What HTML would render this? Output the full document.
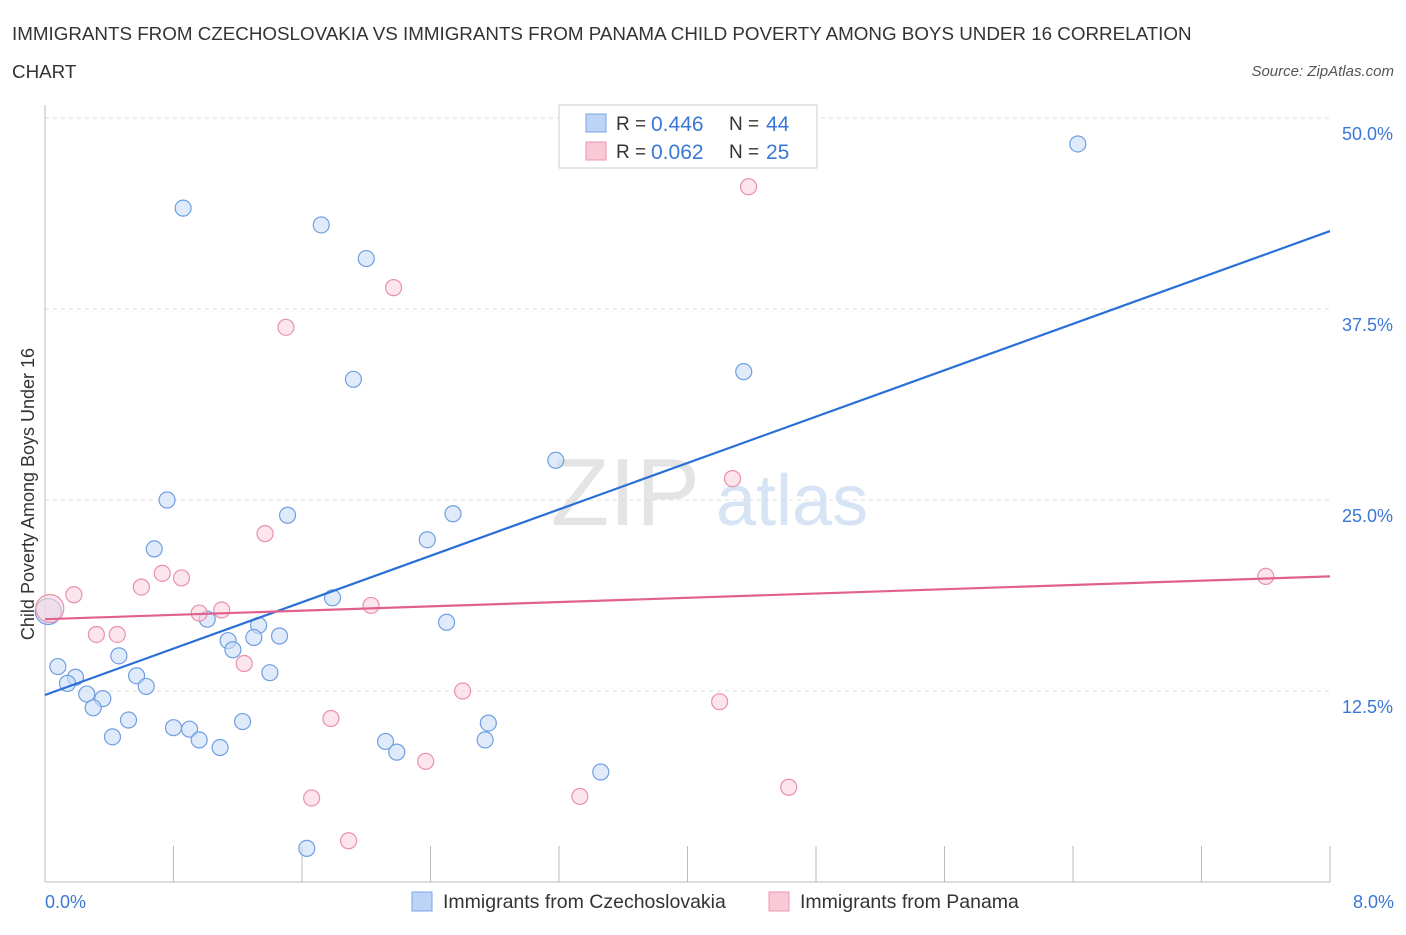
<!DOCTYPE html>
<html><head><meta charset="utf-8"><style>
body{margin:0;background:#fff;font-family:"Liberation Sans",sans-serif;}
svg text{font-family:"Liberation Sans",sans-serif;}
</style></head><body>
<svg id="c" width="1406" height="930" xmlns="http://www.w3.org/2000/svg">
<text x="12" y="40" font-size="18.8" fill="#333">IMMIGRANTS FROM CZECHOSLOVAKIA VS IMMIGRANTS FROM PANAMA CHILD POVERTY AMONG BOYS UNDER 16 CORRELATION</text>
<text x="12" y="78" font-size="18.8" fill="#333">CHART</text>
<text x="1394" y="76" font-size="15" fill="#555" font-style="italic" text-anchor="end">Source: ZipAtlas.com</text>
<text x="700" y="525" font-size="96" fill="#e4e4e4" text-anchor="end" font-family="Liberation Serif">ZIP</text>
<text x="716" y="525" font-size="72" fill="#d6e4f5">atlas</text>
<g id="grid"></g><g id="ticks"></g>
<text x="34" y="494" font-size="18" fill="#333" text-anchor="middle" transform="rotate(-90 34 494)">Child Poverty Among Boys Under 16</text>
<text x="45" y="908" font-size="18" fill="#3a78d8">0.0%</text>
<text x="1394" y="908" font-size="18" fill="#3a78d8" text-anchor="end">8.0%</text>
<g id="pts"></g><g id="lines"></g>
<g>
<rect x="559" y="105" width="258" height="63" fill="#fff" stroke="#ccc"/>
<rect x="586" y="114" width="20" height="18" fill="#bcd4f6" stroke="#7aa6e6"/>
<text x="616" y="130" font-size="19" fill="#333">R =</text>
<text x="651" y="131" font-size="21" fill="#3a78d8">0.446</text>
<text x="729" y="130" font-size="19" fill="#333">N =</text>
<text x="766" y="131" font-size="21" fill="#3a78d8">44</text>
<rect x="586" y="142" width="20" height="18" fill="#f9c9d7" stroke="#eb97b0"/>
<text x="616" y="158" font-size="19" fill="#333">R =</text>
<text x="651" y="159" font-size="21" fill="#3a78d8">0.062</text>
<text x="729" y="158" font-size="19" fill="#333">N =</text>
<text x="766" y="159" font-size="21" fill="#3a78d8">25</text>
</g>
<g>
<rect x="412" y="892" width="20" height="19" fill="#bcd4f6" stroke="#7aa6e6"/>
<text x="443" y="908" font-size="19.5" fill="#333">Immigrants from Czechoslovakia</text>
<rect x="769" y="892" width="20" height="19" fill="#f9c9d7" stroke="#eb97b0"/>
<text x="800" y="908" font-size="19.5" fill="#333">Immigrants from Panama</text>
</g>
</svg>
<script>
const yTicks=[12.5,25,37.5,50];
const yTickLabels=["12.5%","25.0%","37.5%","50.0%"];
const blueX=[0.86,1.72,2.00,6.43,1.92,4.35,3.18,0.76,1.51,2.54,2.38,0.68,1.79,1.01,2.50,1.33,1.14,1.30,1.46,1.17,0.46,0.08,1.40,0.57,0.19,0.14,0.63,0.26,0.36,0.30,0.52,0.80,0.90,1.23,2.76,0.42,0.96,1.09,2.12,2.19,2.74,3.46,1.63,0.02];
const blueY=[44.1,43.0,40.8,48.3,32.9,33.4,27.6,25.0,24.0,24.1,22.4,21.8,18.6,17.2,17.0,16.8,15.8,16.0,16.1,15.2,14.8,14.1,13.7,13.5,13.4,13.0,12.8,12.3,12.0,11.4,10.6,10.1,10.0,10.5,10.4,9.5,9.3,8.8,9.2,8.5,9.3,7.2,2.2,17.7];
const pinkX=[4.38,2.17,1.50,4.28,1.37,7.60,0.73,0.85,0.18,0.60,0.96,1.10,2.03,0.32,0.45,1.24,2.60,4.20,1.78,2.37,1.66,3.33,4.63,1.89,0.03];
const pinkY=[45.5,38.9,36.3,26.4,22.8,20.0,20.2,19.9,18.8,19.3,17.6,17.8,18.1,16.2,16.2,14.3,12.5,11.8,10.7,7.9,5.5,5.6,6.2,2.7,17.9];
const blueTrend=[12.24,42.6];
const pinkTrend=[17.2,20.0];
const NS="http://www.w3.org/2000/svg";
const X=v=>45+v*(1285/8), Y=v=>882-v*(764/50);
function mk(p,t,a){const e=document.createElementNS(NS,t);for(const k in a)e.setAttribute(k,a[k]);document.getElementById(p).appendChild(e);return e;}
yTicks.forEach((t,i)=>{const l=mk('grid','line',{x1:45,x2:1330,y1:Y(t),y2:Y(t),stroke:'#ddd','stroke-dasharray':'4 4'});


const tx=mk('grid','text',{x:1393,y:Y(t)+22,'font-size':18,fill:'#3a78d8','text-anchor':'end'});tx.textContent=yTickLabels[i];

});
const ax=mk('ticks','line',{x1:45,x2:45,y1:105,y2:882,stroke:'#bbb'});


const bx=mk('ticks','line',{x1:45,x2:1330,y1:882,y2:882,stroke:'#bbb'});


for(let i=0;i<=10;i++){const t=mk('ticks','line',{x1:X(i*0.8),x2:X(i*0.8),y1:846,y2:882,stroke:'#bbb'});

}
function pts(xs,ys,f,s,name){xs.forEach((x,i)=>{const big=i===xs.length-1;const c=mk('pts','circle',{cx:X(x),cy:Y(ys[i]),r:big?(name==='pink'?14:13):8,fill:f,stroke:s,'stroke-width':1.2,'fill-opacity':0.6});

});}
pts(blueX,blueY,'#c9dcf7','#6f9fe0','blue');
pts(pinkX,pinkY,'#fbd3df','#e991ad','pink');
const bl=mk('lines','line',{x1:X(0),x2:X(8),y1:Y(blueTrend[0]),y2:Y(blueTrend[1]),stroke:'#2a6fd6','stroke-width':2.2});


const pl=mk('lines','line',{x1:X(0),x2:X(8),y1:Y(pinkTrend[0]),y2:Y(pinkTrend[1]),stroke:'#e0608e','stroke-width':2.2});


</script>
</body></html>
